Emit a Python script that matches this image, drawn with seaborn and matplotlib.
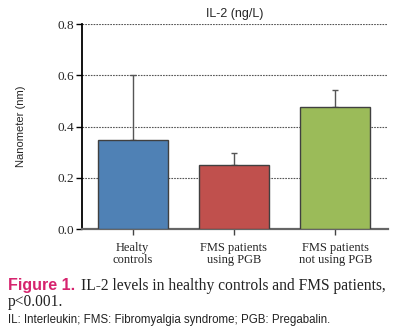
import matplotlib
matplotlib.use("Agg")
import matplotlib.pyplot as plt
import seaborn as sns
import pandas as pd

categories = ["Healty\ncontrols", "FMS patients\nusing PGB", "FMS patients\nnot using PGB"]
means = [0.347, 0.249, 0.476]
upper_err = [0.253, 0.049, 0.066]
colors = ["#4F81B5", "#C0504D", "#9BBB59"]
yticks = [0.0, 0.2, 0.4, 0.6, 0.8]

sns.set_style("white")
serif = ["Liberation Serif", "DejaVu Serif"]
sans = ["Liberation Sans", "DejaVu Sans"]

df = pd.DataFrame({"group": categories, "value": means})

fig = plt.figure(figsize=(4.07, 3.35), dpi=100)
ax = fig.add_axes([0.2015, 0.3164, 0.7515, 0.6119])

sns.barplot(data=df, x="group", y="value", hue="group", palette=colors,
            width=0.69, edgecolor="#404040", linewidth=1.0, ax=ax, legend=False,
            saturation=1, zorder=3)
ax.errorbar(range(len(means)), means, yerr=[[0] * 3, upper_err], fmt="none",
            ecolor="#555555", elinewidth=1.0, capsize=2, capthick=1.0, zorder=2)

ax.set_xlim(-0.5, 2.52)
ax.set_ylim(0, 0.8)
ax.set_yticks(yticks)
ax.set_yticklabels([f"{t:.1f}" for t in yticks], fontfamily=serif, fontsize=9.5)
ax.set_xticks(range(3))
ax.set_xticklabels(categories, fontfamily=serif, fontsize=9, linespacing=1.05)
ax.yaxis.grid(True, linestyle=(0, (1.5, 1)), color="#555555", linewidth=0.8, zorder=0)
ax.set_axisbelow(True)
for s in ["top", "right"]:
    ax.spines[s].set_visible(False)
ax.spines["left"].set_color("black")
ax.spines["left"].set_linewidth(1.3)
ax.spines["bottom"].set_color("#666666")
ax.spines["bottom"].set_linewidth(1.6)
ax.tick_params(axis="y", left=True, length=4, width=1, color="black", pad=2)
ax.tick_params(axis="x", bottom=True, length=4, width=1, color="#444444", pad=5)
ax.set_xlabel("")
ax.set_ylabel("Nanometer (nm)", fontfamily=sans, fontsize=8, labelpad=22)
ax.set_title("IL-2 (ng/L)", fontfamily=sans, fontsize=9, pad=5)

fig.text(0.02, 0.134, "Figure 1.", fontfamily=sans, fontweight="bold",
         color="#D6246E", fontsize=11.5, va="baseline")
fig.text(0.198, 0.134, "IL-2 levels in healthy controls and FMS patients,",
         fontfamily=serif, fontsize=11.2, color="#222222", va="baseline")
fig.text(0.02, 0.088, "p<0.001.", fontfamily=serif, fontsize=11.2, color="#222222",
         va="baseline")
fig.text(0.02, 0.036, "IL: Interleukin; FMS: Fibromyalgia syndrome; PGB: Pregabalin.",
         fontfamily=sans, fontsize=8.3, color="#222222", va="baseline")

fig.savefig("out.png", dpi=100)
